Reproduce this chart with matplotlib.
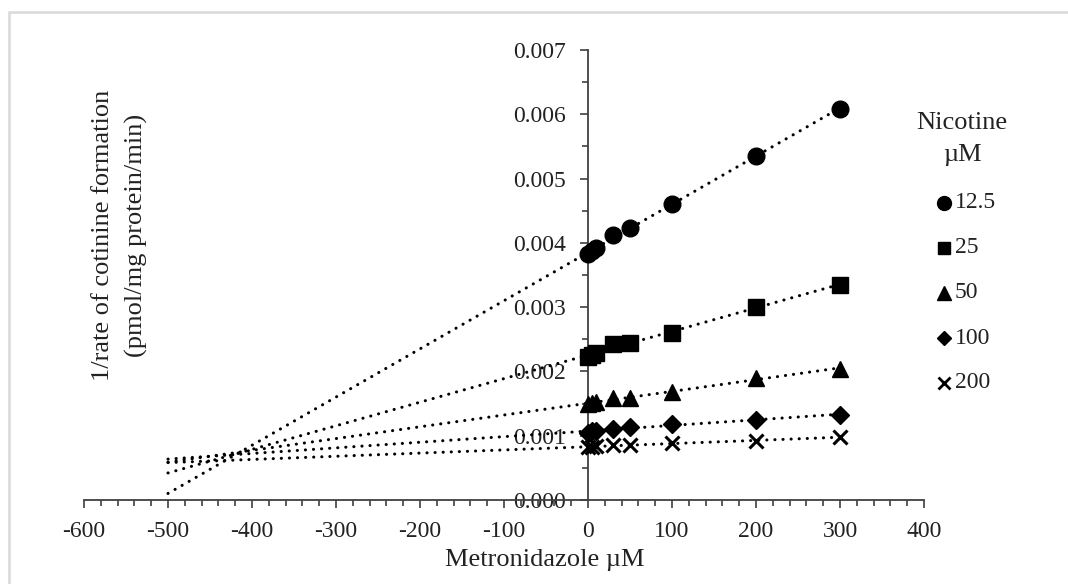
import numpy as np
import matplotlib
matplotlib.use("Agg")
import matplotlib.pyplot as plt
from matplotlib.lines import Line2D
from matplotlib.patches import Rectangle
from matplotlib.ticker import MultipleLocator, FormatStrFormatter

# Metronidazole concentrations (µM)
metronidazole = [0, 5, 10, 30, 50, 100, 200, 300]

# 1/rate of cotinine formation at each nicotine concentration
nicotine_labels = ["12.5", "25", "50", "100", "200"]
inv_rate_12_5 = [0.00382, 0.00387, 0.00392, 0.00412, 0.00423, 0.00461, 0.00535, 0.00609]
inv_rate_25 = [0.00223, 0.00226, 0.00229, 0.00242, 0.00244, 0.00260, 0.00300, 0.00335]
inv_rate_50 = [0.00150, 0.00151, 0.00152, 0.00158, 0.00159, 0.00168, 0.00190, 0.00204]
inv_rate_100 = [0.00105, 0.00107, 0.00108, 0.00111, 0.00113, 0.00118, 0.00124, 0.00133]
inv_rate_200 = [0.00082, 0.00083, 0.00084, 0.00085, 0.00085, 0.00088, 0.00092, 0.00098]

series = [inv_rate_12_5, inv_rate_25, inv_rate_50, inv_rate_100, inv_rate_200]
markers = ["o", "s", "^", "D", "x"]
msizes = [12, 11, 11, 9, 10]
legend_msizes = [10, 9, 9.5, 7.5, 8.5]
trend_from = -500

plt.rcParams["font.family"] = ["Liberation Serif", "DejaVu Serif"]
plt.rcParams["axes.unicode_minus"] = False

W, H = 1068, 584
TXT = "#222222"
fig = plt.figure(figsize=(W / 100, H / 100), dpi=100)
ax = fig.add_axes([84 / W, 1 - 500 / H, (924 - 84) / W, (500 - 50) / H])

x = np.array(metronidazole, dtype=float)
for vals, m, ms in zip(series, markers, msizes):
    y = np.array(vals)
    slope, icpt = np.polyfit(x, y, 1)
    xt = np.array([trend_from, x.max()])
    ax.plot(xt, slope * xt + icpt, color="black", lw=2.2,
            linestyle=(0, (0.05, 2.6)), dash_capstyle="round", zorder=2)
    if m == "x":
        ax.plot(x, y, linestyle="none", marker=m, ms=ms, mew=2.2,
                color="black", zorder=3)
    else:
        ax.plot(x, y, linestyle="none", marker=m, ms=ms, color="black",
                mec="black", zorder=3)

ax.set_xlim(-600, 400)
ax.set_ylim(0, 0.007)

for s in ["top", "right"]:
    ax.spines[s].set_visible(False)
ax.spines["left"].set_position(("data", 0))
ax.spines["bottom"].set_position(("data", 0))
for s in ["left", "bottom"]:
    ax.spines[s].set_color("#404040")
    ax.spines[s].set_linewidth(1.3)

ax.xaxis.set_major_locator(MultipleLocator(100))
ax.xaxis.set_minor_locator(MultipleLocator(20))
ax.yaxis.set_major_locator(MultipleLocator(0.001))
ax.yaxis.set_minor_locator(MultipleLocator(0.0005))
ax.yaxis.set_major_formatter(FormatStrFormatter("%.3f"))
ax.tick_params(axis="both", which="major", direction="out", length=6,
               width=1.2, color="#404040", labelsize=17, pad=9,
               labelcolor=TXT)
ax.tick_params(axis="both", which="minor", direction="out", length=4.5,
               width=1.2, color="#404040")
ax.tick_params(axis="y", which="major", pad=10)

# axis titles
fig.text(545 / W, 1 - 560 / H, "Metronidazole µM", ha="center", va="center",
         fontsize=19, color=TXT)
fig.text(103 / W, 1 - 235 / H, "1/rate of cotinine formation",
         rotation=90, ha="center", va="center", fontsize=19, color=TXT)
fig.text(136 / W, 1 - 235 / H, "(pmol/mg protein/min)",
         rotation=90, ha="center", va="center", fontsize=19, color=TXT)

# legend: title, then one marker + label per nicotine level
fig.text(962 / W, 1 - 123 / H, "Nicotine", ha="center", va="center",
         fontsize=19, color=TXT)
fig.text(962 / W, 1 - 155 / H, "µM", ha="center", va="center",
         fontsize=19, color=TXT)
row_y = 203
for m, ms, lab in zip(markers, legend_msizes, nicotine_labels):
    yy = 1 - row_y / H
    kw = dict(mew=2.0) if m == "x" else dict(mec="black")
    fig.add_artist(Line2D([944 / W], [yy], transform=fig.transFigure,
                          marker=m, ms=ms, color="black", linestyle="none", **kw))
    fig.text(955 / W, yy, lab, ha="left", va="center", fontsize=17, color=TXT)
    row_y += 45

# light grey chart-area frame
fig.add_artist(Rectangle((9 / W, -0.1), 1.2, 1 - 12 / H + 0.1,
                         transform=fig.transFigure, fill=False,
                         edgecolor="#d9d9d9", lw=1.8))

fig.savefig("out.png", dpi=100)
